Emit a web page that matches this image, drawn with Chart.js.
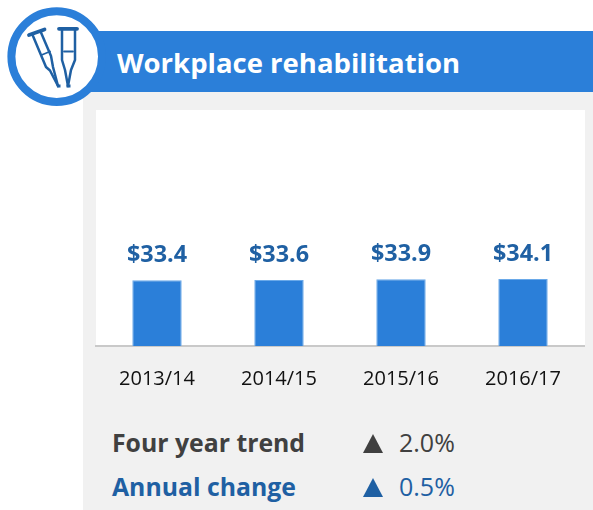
<!DOCTYPE html>
<html><head><meta charset="utf-8">
<style>
html,body{margin:0;padding:0;background:#fff;width:593px;height:510px;overflow:hidden;font-family:"Open Sans",sans-serif}
#panel{position:absolute;left:83px;top:92px;width:510px;height:418px;background:#f1f1f1}
#head{position:absolute;left:90px;top:31px;width:503px;height:61px;background:#2b7fd9}
#title{position:absolute;left:117px;top:44px;color:#fff;font-weight:700;font-size:27.5px;line-height:38px;white-space:nowrap}
#icon{position:absolute;left:0;top:0}
#wrap{position:absolute;left:83px;top:92px;width:510px;height:320px}
.t{position:absolute;white-space:nowrap;line-height:32px}
.b{font-weight:700;font-size:24.8px}
.r{font-size:25px}
.g{color:#404040}.u{color:#1f60a3}
.tri{position:absolute;width:0;height:0;border-left:10.5px solid transparent;border-right:10.5px solid transparent}
</style></head><body>
<div id="panel"></div>
<div id="head"></div>
<svg id="icon" width="110" height="112" viewBox="0 0 110 112">
<circle cx="56.7" cy="56.6" r="45.3" fill="#fff" stroke="#2b7fd9" stroke-width="8"/>
<g fill="none" stroke="#1f60a3" stroke-linecap="round" stroke-linejoin="round">
<path d="M29 35L44.5 29.5" stroke-width="3.8"/>
<path d="M33 36L46 67L50 70.5L58 86" stroke-width="2.5"/>
<path d="M41 32.5L51 56L53 67L58 86" stroke-width="2.5"/>
<path d="M41.5 55L50 51.5" stroke-width="1.8"/>
<path d="M59 28.8H77" stroke-width="3.8"/>
<path d="M62 30V60L65 70L68 86" stroke-width="2.5"/>
<path d="M75 30V60L71 70L68 86" stroke-width="2.5"/>
<path d="M64 51.5H73" stroke-width="1.8"/>
</g>
<rect x="57" y="84.5" width="3.5" height="3" fill="#1f60a3"/><rect x="66.5" y="84.5" width="4" height="3" fill="#1f60a3"/>
</svg>
<div id="title">Workplace rehabilitation</div>
<div id="wrap"><canvas id="c" width="510" height="320"></canvas></div>
<div class="t b g" style="left:112px;top:426px">Four year trend</div>
<div class="tri" style="left:363px;top:434px;border-bottom:19px solid #404040"></div>
<div class="t r g" style="left:399px;top:426px">2.0%</div>
<div class="t b u" style="left:112px;top:470px">Annual change</div>
<div class="tri" style="left:363px;top:478px;border-bottom:19px solid #1f60a3"></div>
<div class="t r u" style="left:399px;top:470px">0.5%</div>
<script src="https://cdn.jsdelivr.net/npm/chart.js@4"></script>
<script>
const categories = ["2013/14","2014/15","2015/16","2016/17"];
const spending = [33.4,33.6,33.9,34.1];
const valueLabels = ["$33.4","$33.6","$33.9","$34.1"];
const whiteArea = {id:'whiteArea',beforeDraw(ch){const a=ch.chartArea,x=ch.ctx;x.save();x.fillStyle='#fff';x.fillRect(a.left,18,a.right-a.left+1,a.bottom-18);x.restore();}};
const barLabels = {id:'barLabels',afterDatasetsDraw(ch){const x=ch.ctx;x.save();x.font='700 23.4px "Open Sans"';x.fillStyle='#1f60a3';x.textAlign='center';x.textBaseline='alphabetic';
 ch.getDatasetMeta(0).data.forEach((b,i)=>x.fillText(valueLabels[i],b.x,b.y-18));x.restore();}};
new Chart(document.getElementById('c'),{
 type:'bar',
 data:{labels:categories,datasets:[{data:spending,backgroundColor:'#2b7fd9',borderColor:'#6aa9e9',borderWidth:1,barPercentage:0.81,categoryPercentage:0.5}]},
 options:{responsive:false,animation:false,
  layout:{padding:{left:13,right:9,top:18,bottom:0}},
  plugins:{legend:{display:false},tooltip:{enabled:false}},
  scales:{
   x:{grid:{display:false,drawTicks:false},border:{color:'#c9c9c9',width:2},
      ticks:{color:'#111',font:{family:'"Open Sans"',size:20},padding:21,maxRotation:0}},
   y:{display:false,min:0,max:120}
  }},
 plugins:[whiteArea,barLabels]
});
</script>
</body></html>
